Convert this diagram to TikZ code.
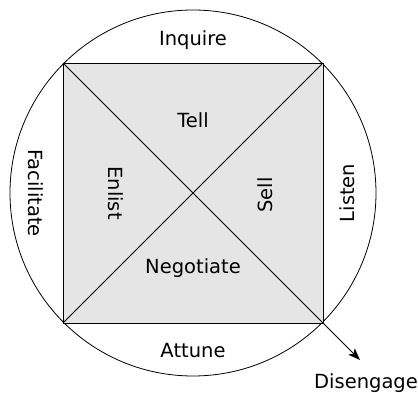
\documentclass[tikz,border=0pt]{standalone}
\usepackage{fontspec}
\setmainfont{DejaVu Sans}
\usetikzlibrary{arrows.meta,positioning}

\begin{document}
\begin{tikzpicture}[x=1pt,y=-1pt,line width=0.8pt,
	lbl/.style={font=\fontsize{19.5}{22}\selectfont, inner sep=0pt}]
	\useasboundingbox (0,0) rectangle (418,393);
	\coordinate (c) at (193,193);
	\coordinate (tl) at (63,63);
	\coordinate (tr) at (323,63);
	\coordinate (bl) at (63,323);
	\coordinate (br) at (323,323);
	\coordinate (d) at (360,360);
	
	\draw (c) circle (183pt);
	\draw [fill=black!10] (tl) rectangle (br);
	\draw (tl) -- (br);
	\draw (bl) -- (tr);
	\draw [-{Stealth[length=12pt,width=9pt,inset=3pt]}] (br) -- (d);
	
	% outer ring
	\node [lbl] (inq) at (193,40) {Inquire};
	\node [lbl] (att) at (193,351) {Attune};
	\node [lbl, rotate=-90] (fac) at (36,193) {Facilitate};
	\node [lbl, rotate=90] (lis) at (347,193) {Listen};
	% inside the square
	\node [lbl] (tel) at (193,120) {Tell};
	\node [lbl] (neg) at (193,268) {Negotiate};
	\node [lbl, rotate=-90] (enl) at (116,193) {Enlist};
	\node [lbl, rotate=90] (sel) at (265,195) {Sell};
	\node [lbl] (dis) at (366,383) {Disengage};
\end{tikzpicture}
\end{document}
